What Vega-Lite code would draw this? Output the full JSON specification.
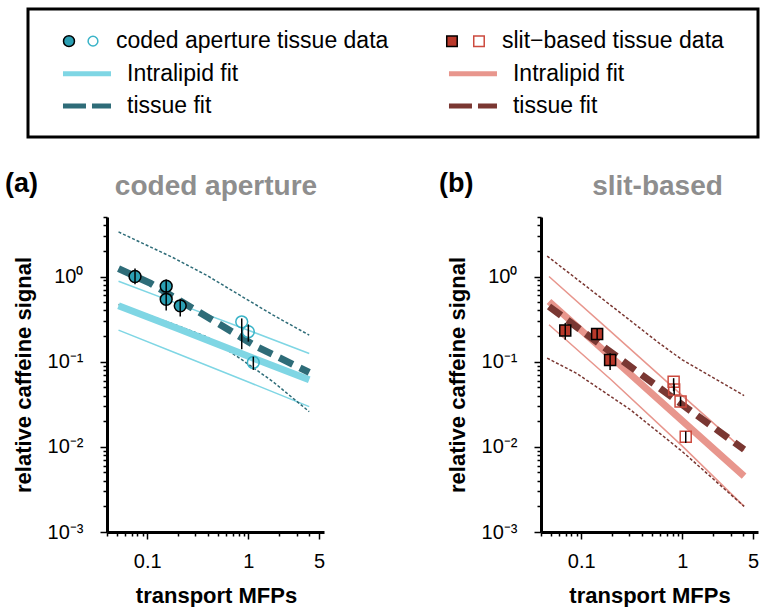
{
  "$schema": "https://vega.github.io/schema/vega-lite/v6.json",
  "background": "white",
  "padding": {"left": 5, "top": 7, "right": 4, "bottom": 4},
  "config": {
    "view": {"stroke": null},
    "font": "Liberation Sans",
    "axis": {"grid": false, "domainColor": "black", "domainWidth": 3, "tickColor": "black", "tickWidth": 1.5,
             "labelFont": "Liberation Sans", "labelFontSize": 20, "labelColor": "black",
             "titleFont": "Liberation Sans", "titleFontSize": 22, "titleFontWeight": "bold", "titleColor": "black"},
    "title": {"font": "Liberation Sans"}
  },
  "datasets": {
    "leg": [
      {"group": "coded", "row": "r1", "label": "coded aperture tissue data"},
      {"group": "coded", "row": "r2", "label": "Intralipid fit"},
      {"group": "coded", "row": "r3", "label": "tissue fit"},
      {"group": "slit", "row": "r1", "label": "slit−based tissue data"},
      {"group": "slit", "row": "r2", "label": "Intralipid fit"},
      {"group": "slit", "row": "r3", "label": "tissue fit"}
    ],
    "fits": [
      {"panel": "a", "series": "IL", "x": 0.052, "y": 0.453},
      {"panel": "a", "series": "IL", "x": 0.2, "y": 0.245},
      {"panel": "a", "series": "IL", "x": 1.0, "y": 0.116},
      {"panel": "a", "series": "IL", "x": 4.0, "y": 0.0612},
      {"panel": "a", "series": "IL_hi", "x": 0.052, "y": 0.88},
      {"panel": "a", "series": "IL_hi", "x": 0.2, "y": 0.48},
      {"panel": "a", "series": "IL_hi", "x": 1.0, "y": 0.234},
      {"panel": "a", "series": "IL_hi", "x": 4.0, "y": 0.125},
      {"panel": "a", "series": "IL_lo", "x": 0.052, "y": 0.235},
      {"panel": "a", "series": "IL_lo", "x": 0.2, "y": 0.124},
      {"panel": "a", "series": "IL_lo", "x": 1.0, "y": 0.0577},
      {"panel": "a", "series": "IL_lo", "x": 4.0, "y": 0.0297},
      {"panel": "a", "series": "T", "x": 0.052, "y": 1.24},
      {"panel": "a", "series": "T", "x": 0.108, "y": 0.83},
      {"panel": "a", "series": "T", "x": 0.389, "y": 0.337},
      {"panel": "a", "series": "T", "x": 1.21, "y": 0.15},
      {"panel": "a", "series": "T", "x": 4.0, "y": 0.075},
      {"panel": "a", "series": "T_hi", "x": 0.052, "y": 3.34},
      {"panel": "a", "series": "T_hi", "x": 0.183, "y": 1.65},
      {"panel": "a", "series": "T_hi", "x": 0.389, "y": 1.03},
      {"panel": "a", "series": "T_hi", "x": 0.83, "y": 0.6},
      {"panel": "a", "series": "T_hi", "x": 1.76, "y": 0.352},
      {"panel": "a", "series": "T_hi", "x": 4.0, "y": 0.205},
      {"panel": "a", "series": "T_lo", "x": 0.052, "y": 0.47},
      {"panel": "a", "series": "T_lo", "x": 0.183, "y": 0.275},
      {"panel": "a", "series": "T_lo", "x": 0.389, "y": 0.196},
      {"panel": "a", "series": "T_lo", "x": 0.83, "y": 0.109},
      {"panel": "a", "series": "T_lo", "x": 1.76, "y": 0.058},
      {"panel": "a", "series": "T_lo", "x": 4.0, "y": 0.0259},
      {"panel": "b", "series": "IL", "x": 0.048, "y": 0.509},
      {"panel": "b", "series": "IL", "x": 0.2, "y": 0.112},
      {"panel": "b", "series": "IL", "x": 1.0, "y": 0.0202},
      {"panel": "b", "series": "IL", "x": 4.08, "y": 0.00452},
      {"panel": "b", "series": "IL_hi", "x": 0.048, "y": 1.0},
      {"panel": "b", "series": "IL_hi", "x": 0.2, "y": 0.221},
      {"panel": "b", "series": "IL_hi", "x": 1.0, "y": 0.04},
      {"panel": "b", "series": "IL_hi", "x": 4.08, "y": 0.0091},
      {"panel": "b", "series": "IL_lo", "x": 0.048, "y": 0.271},
      {"panel": "b", "series": "IL_lo", "x": 0.2, "y": 0.0605},
      {"panel": "b", "series": "IL_lo", "x": 1.0, "y": 0.0102},
      {"panel": "b", "series": "IL_lo", "x": 4.08, "y": 0.002},
      {"panel": "b", "series": "T", "x": 0.048, "y": 0.445},
      {"panel": "b", "series": "T", "x": 0.2, "y": 0.127},
      {"panel": "b", "series": "T", "x": 1.0, "y": 0.0312},
      {"panel": "b", "series": "T", "x": 4.08, "y": 0.0093},
      {"panel": "b", "series": "T_hi", "x": 0.046, "y": 1.74},
      {"panel": "b", "series": "T_hi", "x": 0.2, "y": 0.45},
      {"panel": "b", "series": "T_hi", "x": 0.59, "y": 0.165},
      {"panel": "b", "series": "T_hi", "x": 1.0, "y": 0.105},
      {"panel": "b", "series": "T_hi", "x": 4.08, "y": 0.04},
      {"panel": "b", "series": "T_lo", "x": 0.046, "y": 0.11},
      {"panel": "b", "series": "T_lo", "x": 0.089, "y": 0.0735},
      {"panel": "b", "series": "T_lo", "x": 0.306, "y": 0.0273},
      {"panel": "b", "series": "T_lo", "x": 1.0, "y": 0.0088},
      {"panel": "b", "series": "T_lo", "x": 4.08, "y": 0.002}
    ],
    "pts": [
      {"panel": "a", "kind": "filled", "x": 0.0757, "y": 1.0, "lo": 0.81, "hi": 1.24},
      {"panel": "a", "kind": "filled", "x": 0.154, "y": 0.77, "lo": 0.64, "hi": 0.92},
      {"panel": "a", "kind": "filled", "x": 0.154, "y": 0.54, "lo": 0.4, "hi": 0.64},
      {"panel": "a", "kind": "filled", "x": 0.212, "y": 0.453, "lo": 0.34, "hi": 0.55},
      {"panel": "a", "kind": "open", "x": 0.86, "y": 0.294, "lo": 0.14, "hi": 0.322},
      {"panel": "a", "kind": "open", "x": 1.0, "y": 0.225, "lo": 0.172, "hi": 0.274},
      {"panel": "a", "kind": "open", "x": 1.12, "y": 0.098, "lo": 0.08, "hi": 0.1145},
      {"panel": "b", "kind": "filled", "x": 0.0695, "y": 0.233, "lo": 0.181, "hi": 0.284},
      {"panel": "b", "kind": "filled", "x": 0.1436, "y": 0.212, "lo": 0.181, "hi": 0.248},
      {"panel": "b", "kind": "filled", "x": 0.193, "y": 0.105, "lo": 0.08, "hi": 0.126},
      {"panel": "b", "kind": "open", "x": 0.82, "y": 0.058, "lo": 0.045, "hi": 0.064},
      {"panel": "b", "kind": "open", "x": 0.83, "y": 0.047, "lo": 0.041, "hi": 0.055},
      {"panel": "b", "kind": "open", "x": 0.96, "y": 0.034, "lo": 0.03, "hi": 0.039},
      {"panel": "b", "kind": "open", "x": 1.08, "y": 0.0131, "lo": 0.0111, "hi": 0.0152}
    ]
  },
  "spacing": 31,
  "vconcat": [
    {
      "width": 730,
      "height": 128,
      "view": {"stroke": "black", "strokeWidth": 3},
      "data": {"name": "leg"},
      "encoding": {
        "x": {"field": "group", "type": "nominal", "scale": {"type": "point", "domain": ["coded", "slit"], "padding": 0.4456, "align": 0.1017}, "axis": null},
        "y": {"field": "row", "type": "nominal", "scale": {"type": "point", "domain": ["r1", "r2", "r3"], "padding": 0.97, "align": 0.51}, "axis": null}
      },
      "layer": [
        {"transform": [{"filter": "datum.group == 'coded' && datum.row == 'r1'"}],
         "mark": {"type": "point", "shape": "circle", "filled": true, "fill": "#2b9fb3", "stroke": "black", "strokeWidth": 1.5, "size": 120, "opacity": 1, "xOffset": 6}},
        {"transform": [{"filter": "datum.group == 'coded' && datum.row == 'r1'"}],
         "mark": {"type": "point", "shape": "circle", "filled": false, "stroke": "#3ab4c8", "strokeWidth": 1.5, "size": 95, "opacity": 1, "xOffset": 30}},
        {"transform": [{"filter": "datum.group == 'slit' && datum.row == 'r1'"}],
         "mark": {"type": "point", "shape": "square", "filled": true, "fill": "#b9392b", "stroke": "black", "strokeWidth": 1.5, "size": 110, "opacity": 1, "xOffset": 3}},
        {"transform": [{"filter": "datum.group == 'slit' && datum.row == 'r1'"}],
         "mark": {"type": "point", "shape": "square", "filled": false, "stroke": "#cc4a3e", "strokeWidth": 1.5, "size": 110, "opacity": 1, "xOffset": 30}},
        {"transform": [{"filter": "datum.group == 'coded' && datum.row == 'r2'"}],
         "mark": {"type": "rule", "color": "#7fd6e4", "strokeWidth": 5, "x2Offset": 48},
         "encoding": {"x2": {"field": "group"}}},
        {"transform": [{"filter": "datum.group == 'slit' && datum.row == 'r2'"}],
         "mark": {"type": "rule", "color": "#e8968d", "strokeWidth": 5, "x2Offset": 48},
         "encoding": {"x2": {"field": "group"}}},
        {"transform": [{"filter": "datum.group == 'coded' && datum.row == 'r3'"}],
         "mark": {"type": "rule", "color": "#2e6c78", "strokeWidth": 5, "strokeDash": [23, 6], "x2Offset": 48},
         "encoding": {"x2": {"field": "group"}}},
        {"transform": [{"filter": "datum.group == 'slit' && datum.row == 'r3'"}],
         "mark": {"type": "rule", "color": "#7a3732", "strokeWidth": 5, "strokeDash": [23, 6], "x2Offset": 48},
         "encoding": {"x2": {"field": "group"}}},
        {"transform": [{"filter": "datum.row == 'r1'"}],
         "mark": {"type": "text", "align": "left", "baseline": "middle", "fontSize": 23, "font": "Liberation Sans", "color": "black", "xOffset": 53},
         "encoding": {"text": {"field": "label"}}},
        {"transform": [{"filter": "datum.row != 'r1'"}],
         "mark": {"type": "text", "align": "left", "baseline": "middle", "fontSize": 23, "font": "Liberation Sans", "color": "black", "xOffset": 64},
         "encoding": {"text": {"field": "label"}}}
      ]
    },
    {
      "spacing": 114,
      "hconcat": [
        {
          "title": {"text": "(a)", "anchor": "start", "frame": "bounds", "fontSize": 27, "fontWeight": "bold", "color": "black", "offset": -25, "dx": -7},
          "vconcat": [
            {
              "width": 296,
              "height": 315,
              "title": {"text": "coded aperture", "frame": "group", "fontSize": 28, "fontWeight": "bold", "color": "#8e8e8e", "offset": 6, "dx": 40},
              "encoding": {
                "x": {"field": "x", "type": "quantitative", "scale": {"type": "log", "domain": [0.04, 5.6], "nice": false, "range": [79, 296]},
                      "axis": {"title": "transport MFPs", "values": [0.04, 0.05, 0.06, 0.07, 0.08, 0.09, 0.1, 0.2, 0.3, 0.4, 0.5, 0.6, 0.7, 0.8, 0.9, 1, 2, 3, 4, 5],
                               "labelExpr": "datum.value == 0.1 ? '0.1' : datum.value == 1 ? '1' : datum.value == 5 ? '5' : ''",
                               "tickSize": {"condition": {"test": "indexof([0.1, 1, 5], datum.value) >= 0", "value": 7}, "value": 4},
                               "labelPadding": 12, "titlePadding": 14, "titleX": 188, "labelOverlap": false, "labelFlush": false}},
                "y": {"field": "y", "type": "quantitative", "scale": {"type": "log", "domain": [0.001, 5], "nice": false},
                      "axis": {"title": "relative caffeine signal", "offset": -79, "values": [0.001, 0.002, 0.003, 0.004, 0.005, 0.006, 0.007, 0.008, 0.009, 0.01, 0.02, 0.03, 0.04, 0.05, 0.06, 0.07, 0.08, 0.09, 0.1, 0.2, 0.3, 0.4, 0.5, 0.6, 0.7, 0.8, 0.9, 1, 2, 3, 4, 5],
                               "labelExpr": "datum.value == 1 ? '10⁰' : datum.value == 0.1 ? '10⁻¹' : datum.value == 0.01 ? '10⁻²' : datum.value == 0.001 ? '10⁻³' : ''",
                               "tickSize": {"condition": {"test": "indexof([0.001, 0.01, 0.1, 1], datum.value) >= 0", "value": 7}, "value": 4},
                               "labelPadding": 17, "titlePadding": 12, "labelOverlap": false, "labelFlush": false}}
              },
              "layer": [
                {"data": {"name": "fits"}, "transform": [{"filter": "datum.panel == 'a' && (datum.series == 'IL_hi' || datum.series == 'IL_lo')"}],
                 "mark": {"type": "line", "color": "#7fd6e4", "strokeWidth": 1.5}, "encoding": {"detail": {"field": "series"}}},
                {"data": {"name": "fits"}, "transform": [{"filter": "datum.panel == 'a' && (datum.series == 'T_hi' || datum.series == 'T_lo')"}],
                 "mark": {"type": "line", "color": "#2e6c78", "strokeWidth": 1.5, "strokeDash": [3, 2]}, "encoding": {"detail": {"field": "series"}}},
                {"data": {"name": "fits"}, "transform": [{"filter": "datum.panel == 'a' && datum.series == 'IL'"}],
                 "mark": {"type": "line", "color": "#7fd6e4", "strokeWidth": 7}},
                {"data": {"name": "fits"}, "transform": [{"filter": "datum.panel == 'a' && datum.series == 'T'"}],
                 "mark": {"type": "line", "color": "#2e6c78", "strokeWidth": 7, "strokeDash": [15, 8]}},
                {"data": {"name": "pts"}, "transform": [{"filter": "datum.panel == 'a' && datum.kind == 'filled'"}],
                 "mark": {"type": "point", "shape": "circle", "filled": true, "fill": "#2b9fb3", "stroke": "black", "strokeWidth": 1.5, "size": 140, "opacity": 1}},
                {"data": {"name": "pts"}, "transform": [{"filter": "datum.panel == 'a' && datum.kind == 'open'"}],
                 "mark": {"type": "point", "shape": "circle", "filled": false, "stroke": "#3ab4c8", "strokeWidth": 1.5, "size": 140, "opacity": 1}},
                {"data": {"name": "pts"}, "transform": [{"filter": "datum.panel == 'a'"}],
                 "mark": {"type": "rule", "color": "black", "strokeWidth": 1.5},
                 "encoding": {"y": {"field": "lo", "type": "quantitative", "axis": {"title": "relative caffeine signal"}}, "y2": {"field": "hi"}}}
              ]
            }
          ]
        },
        {
          "title": {"text": "(b)", "anchor": "start", "frame": "bounds", "fontSize": 27, "fontWeight": "bold", "color": "black", "offset": -25, "dx": -7},
          "vconcat": [
            {
              "width": 217,
              "height": 315,
              "title": {"text": "slit-based", "frame": "group", "fontSize": 28, "fontWeight": "bold", "color": "#8e8e8e", "offset": 6, "dx": 8},
              "encoding": {
                "x": {"field": "x", "type": "quantitative", "scale": {"type": "log", "domain": [0.04, 5.6], "nice": false},
                      "axis": {"title": "transport MFPs", "values": [0.04, 0.05, 0.06, 0.07, 0.08, 0.09, 0.1, 0.2, 0.3, 0.4, 0.5, 0.6, 0.7, 0.8, 0.9, 1, 2, 3, 4, 5],
                               "labelExpr": "datum.value == 0.1 ? '0.1' : datum.value == 1 ? '1' : datum.value == 5 ? '5' : ''",
                               "tickSize": {"condition": {"test": "indexof([0.1, 1, 5], datum.value) >= 0", "value": 7}, "value": 4},
                               "labelPadding": 12, "titlePadding": 14, "labelOverlap": false, "labelFlush": false}},
                "y": {"field": "y", "type": "quantitative", "scale": {"type": "log", "domain": [0.001, 5], "nice": false},
                      "axis": {"title": "relative caffeine signal", "values": [0.001, 0.002, 0.003, 0.004, 0.005, 0.006, 0.007, 0.008, 0.009, 0.01, 0.02, 0.03, 0.04, 0.05, 0.06, 0.07, 0.08, 0.09, 0.1, 0.2, 0.3, 0.4, 0.5, 0.6, 0.7, 0.8, 0.9, 1, 2, 3, 4, 5],
                               "labelExpr": "datum.value == 1 ? '10⁰' : datum.value == 0.1 ? '10⁻¹' : datum.value == 0.01 ? '10⁻²' : datum.value == 0.001 ? '10⁻³' : ''",
                               "tickSize": {"condition": {"test": "indexof([0.001, 0.01, 0.1, 1], datum.value) >= 0", "value": 7}, "value": 4},
                               "labelPadding": 17, "titlePadding": 12, "labelOverlap": false, "labelFlush": false}}
              },
              "layer": [
                {"data": {"name": "fits"}, "transform": [{"filter": "datum.panel == 'b' && (datum.series == 'IL_hi' || datum.series == 'IL_lo')"}],
                 "mark": {"type": "line", "color": "#e8968d", "strokeWidth": 1.5}, "encoding": {"detail": {"field": "series"}}},
                {"data": {"name": "fits"}, "transform": [{"filter": "datum.panel == 'b' && (datum.series == 'T_hi' || datum.series == 'T_lo')"}],
                 "mark": {"type": "line", "color": "#7a3732", "strokeWidth": 1.5, "strokeDash": [3, 2]}, "encoding": {"detail": {"field": "series"}}},
                {"data": {"name": "fits"}, "transform": [{"filter": "datum.panel == 'b' && datum.series == 'IL'"}],
                 "mark": {"type": "line", "color": "#e8968d", "strokeWidth": 7}},
                {"data": {"name": "fits"}, "transform": [{"filter": "datum.panel == 'b' && datum.series == 'T'"}],
                 "mark": {"type": "line", "color": "#7a3732", "strokeWidth": 7, "strokeDash": [15, 8]}},
                {"data": {"name": "pts"}, "transform": [{"filter": "datum.panel == 'b' && datum.kind == 'filled'"}],
                 "mark": {"type": "point", "shape": "square", "filled": true, "fill": "#b9392b", "stroke": "black", "strokeWidth": 1.5, "size": 121, "opacity": 1}},
                {"data": {"name": "pts"}, "transform": [{"filter": "datum.panel == 'b' && datum.kind == 'open'"}],
                 "mark": {"type": "point", "shape": "square", "filled": false, "stroke": "#cc4a3e", "strokeWidth": 1.5, "size": 121, "opacity": 1}},
                {"data": {"name": "pts"}, "transform": [{"filter": "datum.panel == 'b'"}],
                 "mark": {"type": "rule", "color": "black", "strokeWidth": 1.5},
                 "encoding": {"y": {"field": "lo", "type": "quantitative", "axis": {"title": "relative caffeine signal"}}, "y2": {"field": "hi"}}}
              ]
            }
          ]
        }
      ]
    }
  ]
}
